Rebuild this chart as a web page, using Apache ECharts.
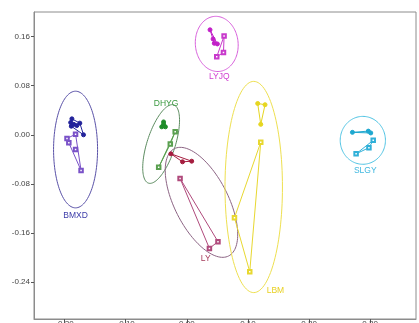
<!DOCTYPE html>
<html><head><meta charset="utf-8">
<script src="https://cdn.jsdelivr.net/npm/echarts@6/dist/echarts.min.js"></script>
<style>html,body{margin:0;padding:0;background:#fff;}#c{width:419px;height:323px;}</style>
</head><body><div id="c"></div>
<script>
// ---- data (MDS coordinates) ----
const groups = ['BMXD', 'DHYG', 'LY', 'LYJQ', 'LBM', 'SLGY'];
const xTicks = [-0.2, -0.1, 0, 0.1, 0.2, 0.3];
const yTicks = [-0.24, -0.16, -0.08, 0, 0.08, 0.16];

const bmxdFilled = [[-0.188, 0.026], [-0.175, 0.019], [-0.169, 0.000], [-0.180, 0.015], [-0.189, 0.014], [-0.190, 0.020], [-0.185, 0.017]];
const bmxdOpen = [[-0.182, 0.001], [-0.196, -0.006], [-0.193, -0.013], [-0.182, -0.024], [-0.173, -0.058]];
const dhygFilled = [[-0.038, 0.021], [-0.038, 0.017], [-0.041, 0.013], [-0.035, 0.013]];
const dhygOpen = [[-0.019, 0.005], [-0.027, -0.015], [-0.046, -0.053]];
const lyFilled = [[-0.026, -0.031], [-0.007, -0.044], [0.008, -0.043]];
const lyOpen = [[-0.011, -0.071], [0.037, -0.185], [0.051, -0.174]];
const lyjqFilled = [[0.038, 0.171], [0.043, 0.156], [0.045, 0.149], [0.050, 0.148]];
const lyjqOpen = [[0.061, 0.161], [0.060, 0.134], [0.049, 0.127]];
const lbmFilled = [[0.116, 0.051], [0.128, 0.049], [0.121, 0.017]];
const lbmOpen = [[0.121, -0.012], [0.078, -0.135], [0.103, -0.223]];
const slgyFilled = [[0.271, 0.004], [0.297, 0.006], [0.301, 0.003]];
const slgyOpen = [[0.277, -0.031], [0.305, -0.009], [0.298, -0.021]];

// ellipses: [cx, cy, semi-major, semi-minor, angle(deg)]
const bmxdEllipse = [-0.182, -0.024, 0.095, 0.036, 90];
const dhygEllipse = [-0.042, -0.015, 0.067, 0.023, 72];
const lyEllipse = [0.024, -0.110, 0.098, 0.044, -63];
const lyjqEllipse = [0.049, 0.148, 0.045, 0.035, 95];
const lbmEllipse = [0.1095, -0.085, 0.172, 0.047, 90];
const slgyEllipse = [0.288, -0.009, 0.039, 0.037, 90];

// group label anchor points
const labelAnchors = [[-0.182, -0.131], [-0.034, 0.050], [0.031, -0.202], [0.053, 0.094], [0.145, -0.254], [0.292, -0.059]];

// ---- styles ----
const FONT = '"Liberation Sans", Arial, sans-serif';
const styles = {
  BMXD: {filled: '#23239b', open: '#7a52c8', ell: '#5a52a8', label: '#3a3aa8'},
  DHYG: {filled: '#1f8c2a', open: '#5aa050', ell: '#5c8c60', label: '#3a9a40'},
  LY:   {filled: '#a51d3f', open: '#b04a7c', ell: '#8c6484', label: '#a53a5a'},
  LYJQ: {filled: '#c21fc8', open: '#c83acc', ell: '#d860dc', label: '#d040d0'},
  LBM:  {filled: '#e6d620', open: '#e8d830', ell: '#eee050', label: '#e8d020'},
  SLGY: {filled: '#1ea8d0', open: '#30b0d8', ell: '#50c4e4', label: '#40b8e0'}
};
const groupData = {
  BMXD: [bmxdFilled, bmxdOpen, bmxdEllipse],
  DHYG: [dhygFilled, dhygOpen, dhygEllipse],
  LY: [lyFilled, lyOpen, lyEllipse],
  LYJQ: [lyjqFilled, lyjqOpen, lyjqEllipse],
  LBM: [lbmFilled, lbmOpen, lbmEllipse],
  SLGY: [slgyFilled, slgyOpen, slgyEllipse]
};

function hull(pts) {
  const p = pts.slice().sort((a, b) => a[0] - b[0] || a[1] - b[1]);
  if (p.length < 3) return p.concat([p[0]]);
  const cross = (o, a, b) => (a[0] - o[0]) * (b[1] - o[1]) - (a[1] - o[1]) * (b[0] - o[0]);
  const lower = [], upper = [];
  for (const q of p) { while (lower.length >= 2 && cross(lower[lower.length - 2], lower[lower.length - 1], q) <= 0) lower.pop(); lower.push(q); }
  for (let i = p.length - 1; i >= 0; i--) { const q = p[i]; while (upper.length >= 2 && cross(upper[upper.length - 2], upper[upper.length - 1], q) <= 0) upper.pop(); upper.push(q); }
  upper.pop(); lower.pop();
  const h = lower.concat(upper);
  h.push(h[0]);
  return h;
}

const series = [];
groups.forEach((g, gi) => {
  const st = styles[g];
  const [filled, open, ell] = groupData[g];
  series.push({
    type: 'custom', silent: true, z: 1,
    data: [ell],
    renderItem: function (params, api) {
      const cx = api.value(0), cy = api.value(1), a = api.value(2), b = api.value(3), ang = api.value(4) * Math.PI / 180;
      const pts = [];
      for (let i = 0; i <= 120; i++) {
        const t = i / 120 * 2 * Math.PI, ex = a * Math.cos(t), ey = b * Math.sin(t);
        pts.push(api.coord([cx + ex * Math.cos(ang) - ey * Math.sin(ang), cy + ex * Math.sin(ang) + ey * Math.cos(ang)]));
      }
      return {type: 'polyline', shape: {points: pts}, style: {stroke: st.ell, fill: null, lineWidth: 1}};
    }
  });
  [[filled, st.filled, 'circle', 4], [open, st.open, 'emptyRect', 3.5]].forEach(([pts, col, sym, sz]) => {
    series.push({type: 'line', data: hull(pts), showSymbol: false, symbol: 'none', silent: true, z: 2,
      lineStyle: {color: col, width: 1}, animation: false});
    series.push({type: 'scatter', data: pts, symbol: sym, symbolSize: sz, silent: true, z: 3,
      itemStyle: {color: col, borderColor: col, borderWidth: 1, opacity: 1}});
  });
  series.push({
    type: 'custom', silent: true, z: 4,
    data: [labelAnchors[gi]],
    renderItem: function (params, api) {
      const p = api.coord([api.value(0), api.value(1)]);
      return {type: 'text', x: p[0], y: p[1], style: {text: g, fill: st.label, fontSize: 8.5, fontFamily: FONT, align: 'center', verticalAlign: 'middle'}};
    }
  });
});

const chart = echarts.init(document.getElementById('c'), null, {renderer: 'canvas'});
chart.setOption({
  animation: false,
  backgroundColor: '#fff',
  grid: {left: 34, right: 3, top: 12, bottom: 4, containLabel: false, outerBoundsMode: 'none',
    show: true, borderColor: '#8c8c8c', borderWidth: 1, backgroundColor: 'transparent'},
  xAxis: {
    type: 'value', min: -0.25, max: 0.375,
    axisLine: {show: true, onZero: false, lineStyle: {color: '#8c8c8c', width: 1}},
    axisTick: {show: true, length: 4, customValues: xTicks, lineStyle: {color: '#555'}},
    axisLabel: {show: true, customValues: xTicks, margin: 1, fontSize: 8, color: '#444', fontFamily: FONT, formatter: v => v.toFixed(2)},
    splitLine: {show: false}
  },
  yAxis: {
    type: 'value', min: -0.3, max: 0.2,
    name: 'MDS2', nameLocation: 'middle', nameGap: 25, nameRotate: -90,
    nameTextStyle: {fontSize: 8, color: '#444', fontFamily: FONT},
    axisLine: {show: true, onZero: false, lineStyle: {color: '#8c8c8c', width: 1}},
    axisTick: {show: true, length: 3, customValues: yTicks, lineStyle: {color: '#555'}},
    axisLabel: {show: true, customValues: yTicks, margin: 4, fontSize: 8, color: '#444', fontFamily: FONT, formatter: v => v.toFixed(2)},
    splitLine: {show: false}
  },
  series: series
});
</script></body></html>
